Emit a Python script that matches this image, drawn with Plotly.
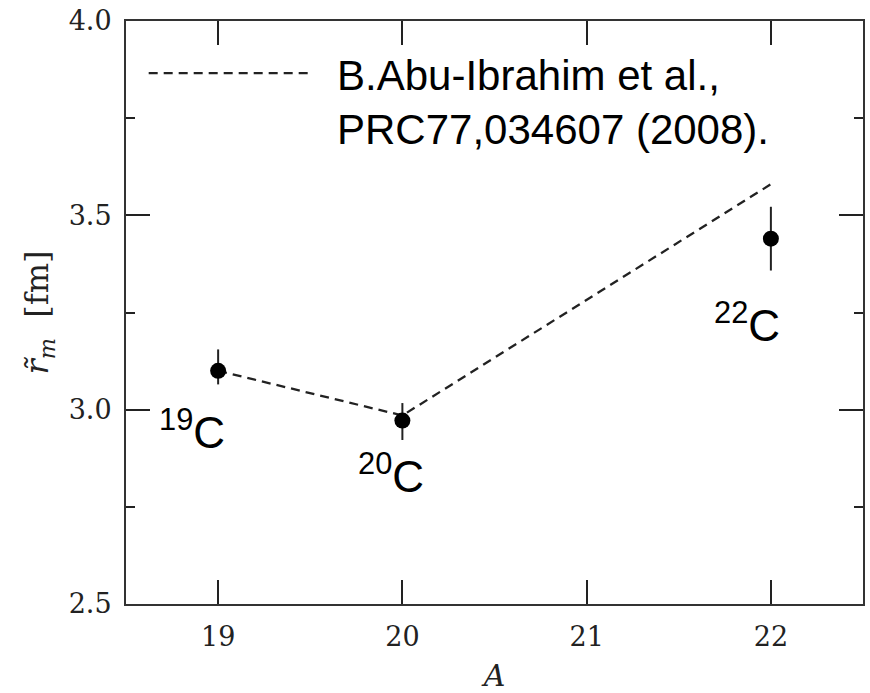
import plotly.graph_objects as go

# data
A_exp = [19, 20, 22]
r_exp = [3.10, 2.972, 3.44]
err_plus = [0.055, 0.045, 0.082]
err_minus = [0.035, 0.05, 0.082]
labels = ["<sup>19</sup>C", "<sup>20</sup>C", "<sup>22</sup>C"]
label_x = [18.86, 19.94, 21.87]
label_y = [2.95, 2.835, 3.225]

A_theo = [19, 20, 22]
r_theo = [3.10, 2.985, 3.58]
theo_name = "\u00a0\u00a0B.Abu-Ibrahim et al.,<br>\u00a0\u00a0PRC77,034607 (2008)."

fig = go.Figure()
fig.add_trace(go.Scatter(
    x=A_theo, y=r_theo, mode="lines", name=theo_name,
    line=dict(color="#222", width=2.3, dash="9px,6px"),
    showlegend=True,
))
fig.add_trace(go.Scatter(
    x=A_exp, y=r_exp, mode="markers", showlegend=False,
    marker=dict(color="black", size=16),
    error_y=dict(type="data", symmetric=False, array=err_plus, arrayminus=err_minus,
                 color="#222", thickness=2, width=0),
))
for lx, ly, t in zip(label_x, label_y, labels):
    fig.add_annotation(x=lx, y=ly, text=t, showarrow=False,
                       font=dict(family="Liberation Sans, Arial", size=44, color="black"),
                       xanchor="center", yanchor="middle")

axis_common = dict(
    showline=True, linecolor="#333", linewidth=2, mirror="ticks",
    ticks="inside", ticklen=24, tickwidth=1.5, tickcolor="#222",
    showgrid=False, zeroline=False,
    tickfont=dict(family="DejaVu Serif", size=27, color="#222"),
)
fig.update_xaxes(range=[18.5, 22.5], tickvals=[19, 20, 21, 22],
                 ticklabelstandoff=8,
                 title=dict(text="<i>A</i>", font=dict(family="DejaVu Serif", size=30, color="#222"), standoff=14),
                 **axis_common)
fig.update_yaxes(range=[2.5, 4.0], tickvals=[2.5, 3.0, 3.5, 4.0], ticktext=["2.5", "3.0", "3.5", "4.0"],
                 ticklabelstandoff=7,
                 minor=dict(tickvals=[2.75, 3.25, 3.75], ticks="inside", ticklen=9, tickwidth=1.5, tickcolor="#222"),
                 title=dict(text="<i>r̃<sub>m</sub></i>  [fm]", font=dict(family="DejaVu Serif", size=32, color="#222"), standoff=10),
                 **axis_common)

fig.update_layout(
    width=870, height=693,
    margin=dict(l=126, r=5, t=18, b=89),
    plot_bgcolor="white", paper_bgcolor="white",
    legend=dict(x=0.024, y=0.9685, xanchor="left", yanchor="top", valign="top",
                font=dict(family="Liberation Sans, Arial", size=42, color="black"),
                itemwidth=160, bgcolor="rgba(0,0,0,0)", tracegroupgap=0),
)
fig.write_html("out.html")
